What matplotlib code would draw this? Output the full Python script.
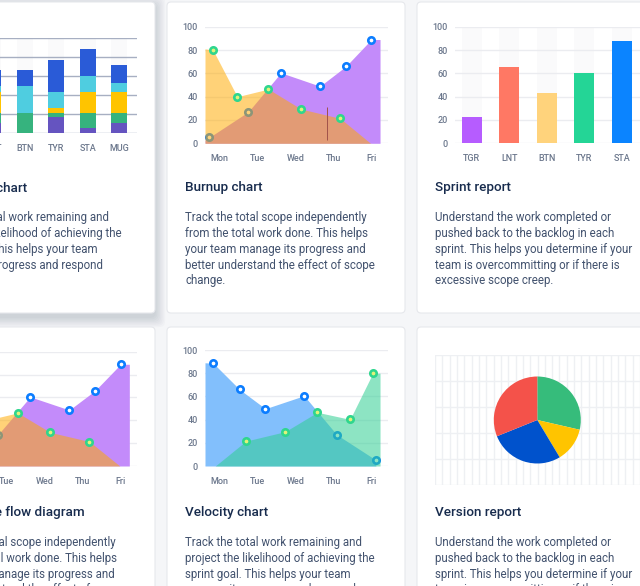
import numpy as np
import matplotlib.pyplot as plt
from matplotlib.patches import FancyBboxPatch

plt.rcParams['font.family'] = ['Roboto', 'DejaVu Sans']

# ---- data ----
days = ['Mon', 'Tue', 'Wed', 'Thu', 'Fri']

# burnup / cumulative flow (x in day units, Mon = 0)
scope_x = [-0.38, -0.27, 0.76, 1.62, 2.65, 3.33, 4.00, 4.23]
scope_y = [2.7, 5, 27, 60.5, 49, 66, 89, 89]
done_x = [-0.38, -0.17, 0.47, 1.29, 2.15, 3.18, 3.98]
done_y = [81, 80, 40, 46.5, 29.4, 21.4, 0]

# velocity chart
commit_x = [-0.38, -0.16, 0.53, 1.21, 2.23, 3.09, 4.12]
commit_y = [89, 88.5, 66, 49.4, 60.6, 27, 5.2]
complete_x = [-0.11, 0.70, 1.73, 2.58, 3.44, 4.04, 4.23]
complete_y = [0, 21.5, 29.6, 46.3, 40.2, 80, 80]

# sprint report
sprint_cats = ['TGR', 'LNT', 'BTN', 'TYR', 'STA']
sprint_vals = [22.3, 65.7, 43.4, 60, 88]
sprint_colors = ['#b65cff', '#ff7864', '#ffd37c', '#24d596', '#0b84ff']

# stacked bars (first card, cut off on the left)
stack_cats = ['LNT', 'BTN', 'TYR', 'STA', 'MUG']
stack_purple = [10.6, 0, 17, 5.3, 10.6]
stack_green = [10, 20.6, 3.6, 15.3, 10]
stack_yellow = [23, 0, 6, 23, 23]
stack_cyan = [5.4, 28.4, 17, 16.7, 9]
stack_blue = [17, 17, 33.7, 28.4, 19.5]

# version report
version_vals = [28.6, 12.8, 27.5, 31.1]
version_colors = ['#36bc7b', '#ffc400', '#0052cc', '#f4524a']

titles = ['Burndown chart', 'Burnup chart', 'Sprint report',
          'Cumulative flow diagram', 'Velocity chart', 'Version report']
txt_velocity = ['Track the total work remaining and',
                'project the likelihood of achieving the',
                'sprint goal. This helps your team',
                'manage its progress and respond']
txt_burnup = ['Track the total scope independently',
              'from the total work done. This helps',
              'your team manage its progress and',
              'better understand the effect of scope',
              'change.']
txt_sprint = ['Understand the work completed or',
              'pushed back to the backlog in each',
              'sprint. This helps you determine if your',
              'team is overcommitting or if there is',
              'excessive scope creep.']
descs = [txt_velocity, txt_burnup, txt_sprint, txt_burnup, txt_velocity, txt_sprint]

W, H = 640, 586
TICK = '#6b778c'
GRID = '#ebecf0'

fig = plt.figure(figsize=(6.4, 5.86), dpi=100)
fig.patch.set_facecolor('#f5f6f8')
bg = fig.add_axes([0, 0, 1, 1])
bg.set_xlim(0, W)
bg.set_ylim(H, 0)
bg.axis('off')


def px_axes(x0, y0, x1, y1):
    return fig.add_axes([x0 / W, 1 - y1 / H, (x1 - x0) / W, (y1 - y0) / H])


# cards
cards = [(-84, 2, 155, 313), (167, 2, 405, 313), (417, 2, 655, 313),
         (-84, 327, 155, 600), (167, 327, 405, 600), (417, 327, 655, 600)]
# hovered card shadow
for i in range(8):
    g = 1 + i * 1.3
    bg.add_patch(FancyBboxPatch((-84 - g, 2 - g + 4), 239 + 2 * g, 311 + 2 * g,
                                boxstyle='round,pad=0,rounding_size=6',
                                fc='#091e42', ec='none', alpha=0.02))
for i, (x0, y0, x1, y1) in enumerate(cards):
    bg.add_patch(FancyBboxPatch((x0, y0), x1 - x0, y1 - y0,
                                boxstyle='round,pad=0,rounding_size=4',
                                fc='white', ec='#e6e8ec', lw=0.8))
    tx = x0 + 18
    if i == 0:
        tx = x0 + 16.5
    ty = 188 if y0 < 100 else 512.7
    bg.text(tx, ty, titles[i], fontsize=9.7, fontweight='medium',
            color='#172b4d', va='center', ha='left')
    for j, line in enumerate(descs[i]):
        bg.text(tx, ty + 30 + j * 15.7, line, fontsize=8.3,
                color='#42526e', va='center', ha='left')


def style(ax, show_y=True):
    for s in ax.spines.values():
        s.set_visible(False)
    ax.set_facecolor('none')
    ax.set_ylim(0, 100)
    ax.set_yticks(range(0, 101, 20))
    ax.yaxis.grid(True, color=GRID, lw=1)
    ax.set_axisbelow(True)
    ax.tick_params(length=0, labelsize=6.5, labelcolor=TICK, pad=5)
    ax.tick_params(axis='x', pad=8)
    for lab in ax.get_yticklabels():
        lab.set_fontweight('medium')
    if not show_y:
        ax.set_yticklabels([])


def ring(ax, x, y, edge, face, z):
    ax.plot(x, y, 'o', ms=4.6, mew=1.9, mec=edge, mfc=face, zorder=z, clip_on=False)


def set_days(ax):
    ax.set_xlim(-0.38, 4.44)
    ax.set_xticks(range(len(days)))
    ax.set_xticklabels(days, fontweight='medium')


def burnup(ax):
    ax.fill_between(scope_x, scope_y, color='#c38bfa', lw=0, zorder=1)
    ring(ax, scope_x[1:7], scope_y[1:7], '#0c7dff', 'white', 2)
    ax.fill_between(done_x, done_y, color='#ffab00', alpha=0.53, lw=0, zorder=3)
    ring(ax, done_x[1:6], done_y[1:6], '#2fd68e', '#e3f27a', 4)
    set_days(ax)


# burnup chart
ax = px_axes(205, 26.7, 388, 143.3)
style(ax)
burnup(ax)
ax.vlines(2.83, 3, 31, color='#a0524a', lw=0.7, zorder=5)

# cumulative flow diagram
ax = px_axes(-45.7, 351.7, 137.3, 466)
style(ax)
burnup(ax)

# velocity chart
ax = px_axes(205, 350, 388, 466)
style(ax)
ax.fill_between(commit_x, commit_y, color='#82bffc', lw=0, zorder=1)
ring(ax, commit_x[1:], commit_y[1:], '#0c7dff', 'white', 2)
ax.fill_between(complete_x, complete_y, color='#2fcf93', alpha=0.55, lw=0, zorder=3)
ring(ax, complete_x[1:6], complete_y[1:6], '#2fd68e', '#e3f27a', 4)
set_days(ax)

# sprint report
ax = px_axes(455, 26.7, 680, 143.3)
style(ax)
xs = np.arange(len(sprint_cats))
ax.bar(xs, [100] * len(xs), width=0.53, color='#fafafb', zorder=0.5)
ax.bar(xs, sprint_vals, width=0.53, color=sprint_colors, zorder=2)
ax.set_xlim(-0.45, 5.55)
ax.set_xticks(xs)
ax.set_xticklabels(sprint_cats, fontweight='medium')

# stacked bars (first card)
ax = px_axes(-40, 38.3, 137, 132.7)
style(ax, show_y=False)
ax.yaxis.grid(True, color='#a7afc2', lw=1)
xs = np.arange(len(stack_cats))
ax.bar(xs, [100] * len(xs), width=0.51, color='#fafafb', zorder=0.5)
bottom = np.zeros(len(xs))
for vals, col in [(stack_purple, '#6554c0'), (stack_green, '#36b37e'),
                  (stack_yellow, '#ffc400'), (stack_cyan, '#4fcde0'),
                  (stack_blue, '#2a5bd7')]:
    ax.bar(xs, vals, bottom=bottom, width=0.51, color=col, zorder=2)
    bottom += np.array(vals)
ax.set_xlim(-1.06, 4.57)
ax.set_xticks(xs)
ax.set_xticklabels(stack_cats, fontweight='medium')

# version report grid + pie
gax = px_axes(435, 355, 640, 485)
gax.set_xlim(0, 205)
gax.set_ylim(0, 130)
gax.set_xticks(np.arange(0, 206, 7.33))
gax.set_yticks(np.arange(0, 131, 26))
gax.grid(True, color='#eef0f3', lw=1)
gax.tick_params(length=0, labelbottom=False, labelleft=False)
for s in gax.spines.values():
    s.set_visible(False)
gax.set_facecolor('none')

pax = px_axes(537.3 - 43.5, 420 - 43.5, 537.3 + 43.5, 420 + 43.5)
pax.pie(version_vals, colors=version_colors, startangle=90, counterclock=False,
        radius=1, wedgeprops=dict(lw=0))
pax.set_xlim(-1, 1)
pax.set_ylim(-1, 1)

fig.savefig('out.png', dpi=100, facecolor=fig.get_facecolor())
